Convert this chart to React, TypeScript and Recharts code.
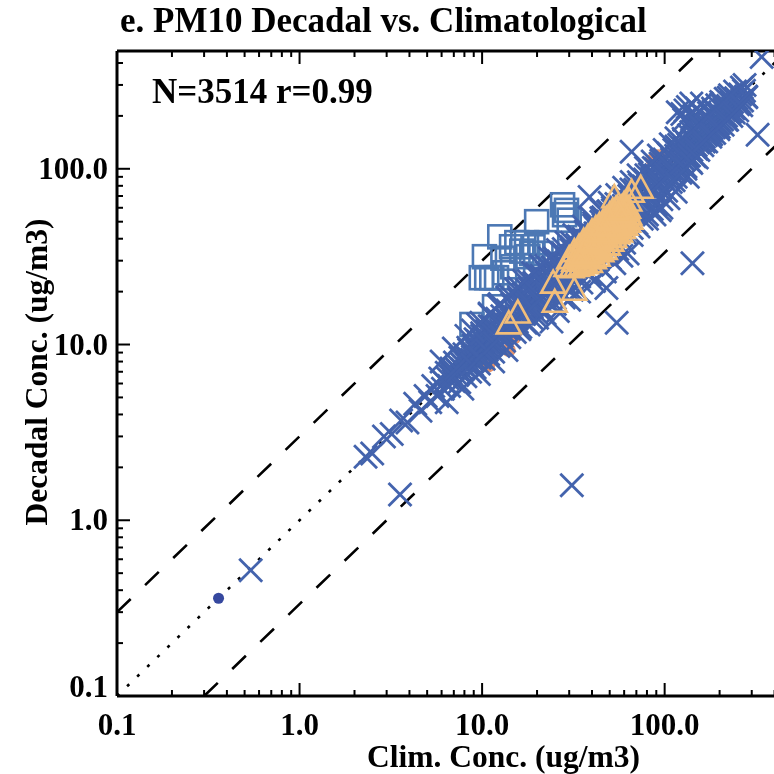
import React from "react";
import { ScatterChart, Scatter, XAxis, YAxis, ReferenceLine } from "recharts";

const majorTicks = [0.1, 1, 10, 100];
const minorTicks = [0.2,0.3,0.4,0.5,0.6,0.7,0.8,0.9,2,3,4,5,6,7,8,9,20,30,40,50,60,70,80,90,200,300,400];
const allTicks = [...majorTicks, ...minorTicks];
const tickLabels: Record<number,string> = {0.1:"0.1",1:"1.0",10:"10.0",100:"100.0"};
const axisDomain = [0.1, 468];

const dotPoints = [[0.36,0.36]];
const crossPoints = [
[0.54,0.52],[2.3,2.3],[2.5,2.4],[2.9,3.0],[3.2,3.1],[3.55,1.4],[3.6,3.7],[3.9,3.6],[4.3,4.6],[4.6,4.2],[4.9,5.1],[5.2,4.7],[5.4,5.8],[5.7,5.1],[5.9,6.4],[6.1,5.6],[6.4,6.9],[6.6,5.8],[6.8,7.3],[7.0,6.2],[7.1,7.9],[7.3,6.7],[7.5,6.1],[7.6,8.4],[7.8,7.2],[8.0,8.8],[8.1,6.6],[8.3,7.7],[8.5,9.3],[8.6,7.0],[8.8,8.2],[9.0,9.9],[9.1,7.4],[9.3,8.6],[9.5,10.4],[9.6,7.8],[9.8,9.1],[10,11.2],[10.2,8.3],[10.4,9.6],[10.6,11.9],[10.8,8.8],[11,10.2],[11.3,12.7],[11.5,9.1],[11.8,10.8],[12,13.6],[12.3,9.8],[12.6,11.6],[12.9,14.5],[13.2,10.5],[13.5,12.4],[13.8,15.6],[14.1,11],[14.4,13.2],[14.8,16.9],[15.1,11.8],[15.5,14.1],[15.9,18],[16.2,12.6],[16.6,15],[17,19.4],[17.3,13.3],[17.8,16.1],[18.2,20.8],[18.6,14.2],[19,17.2],[19.5,22.3],[20,15],[20.5,18.4],[21,24],[21.5,15.9],[22,19.6],[22.6,25.6],[23.2,17.2],[23.8,21],[24.4,27.5],[25,18.4],[25.6,22.6],[26.3,29.7],[27,20],[27.7,24.4],[28.4,32],[29,21],[30,26],[30.8,34.6],[31.5,23],[31,1.58],[32.4,28],[33.2,37],[34,24.4],[35,30],[36,40],[37,26.4],[38,32.5],[38.8,69],[39,43],[40,28.4],[41,35],[42,46],[43,30.5],[44,37.5],[45,50],[46,32.5],[47,40],[48,21],[48.5,54],[49.5,35],[51,43],[52,58],[53,37],[54.6,13.3],[55,47],[56,62],[57,40],[59,51],[60,66],[61,43],[62.7,33],[63,55],[64,70],[65.9,125],[66,46],[68,59],[69,76],[70,49],[72,63],[73,81],[75,52],[77,67],[78,87],[80,55],[82,72],[83,93],[85,59],[87,77],[89,100],[90,63],[92,82],[94,58],[95,107],[96,67],[98,88],[100,113],[102,75],[104,94],[106,120],[108,84],[110,100],[113,128],[115,90],[118,107],[120,137],[122,95],[125,114],[128,146],[130,103],[132,121],[134,225],[134,90],[136,155],[138,110],[140,128],[142,29],[144,165],[146,118],[148,136],[151,176],[153,128],[156,144],[159,186],[161,136],[164,152],[167,197],[169,143],[172,160],[175,208],[178,152],[181,170],[184,220],[187,160],[190,178],[194,230],[197,168],[200,188],[204,240],[208,178],[212,198],[216,250],[220,190],[224,208],[228,262],[232,200],[238,222],[243,275],[250,215],[256,240],[265,290],[274,300],[280,255],[323,156],[340,433],[125,205],[130,215],[140,235],[145,200],[150,220],[128,190],[155,210],[136,180],[118,210],[160,235],
[16,12.2],[18,13],[20,14.2],[22,15],[25,17],[28,18.5],[31,20.5],[35,22.5],[39,25],[44,28],[50,31],[55,35],[60,38],[66,42],[72,47],[80,52],[88,55],[96,60],[105,68],[115,74],[30,18],[34,20],[26,15.5],[24,13.5],[41,23],[47,26],[53,29],[58,32],[13.6,9.3],[11.5,8],[9.6,6.8],[7.8,5.6],[6.4,4.7],
[52,60],[49,57],[46,53],[41,49],[37,44],[34,41],[31,38],[28,35],[25,31],[22.5,28],[20,25],[18,23],[16,21],[14.2,19],[12.5,17],[11,15],[9.5,13],[8.2,11.2],[7,9.5],[6,8]
];
const denseCrossPoints = [
[6.2,6.1],[6.5,6.4],[6.7,6.9],[6.9,6.6],[7.2,7.3],[7.4,7.1],[7.7,7.8],[7.9,7.6],[8.2,8.4],[8.4,8.0],[8.7,8.9],[8.9,8.5],[9.2,9.4],[9.4,9.0],[9.7,10],[9.9,9.4],[10.1,10.4],[10.3,9.8],[10.5,10.8],[10.7,10.2],[10.9,11.3],[11.1,10.5],[11.4,11.8],[11.6,11],[11.9,12.3],[12.1,11.4],[12.4,12.9],[12.7,12],[13,13.5],[13.3,12.6],[13.6,14.1],[13.9,13.1],[14.2,14.8],[14.6,13.8],[15,15.5],[15.3,14.4],[15.7,16.2],[16.1,15.2],[16.5,17],[16.9,15.9],[17.2,17.8],[17.6,16.6],[18,18.6],[18.4,17.4],[18.8,19.5],[19.3,18.2],[19.8,20.4],[20.2,19],[20.7,21.4],[21.2,20],[21.7,22.4],[22.2,21],[22.8,23.5],[23.4,22],[24,24.7],[24.6,23],[25.2,26],[25.9,24.2],[26.6,27.4],[27.3,25.6],[28,28.8],[28.7,27],[29.4,30.2],[30.2,28.4],[31,31.8],[31.8,30],[32.6,33.5],[33.4,31.5],[34.2,35.2],[35.1,33],[36,37],[36.9,34.8],[37.8,39],[38.8,36.6],[39.8,41],[40.8,38.4],[41.8,43],[42.9,40.4],[44,45.4],[45.1,42.5],[46.3,47.8],[47.5,44.6],[48.7,50.2],[50,47],[51.3,53],[52.6,49.4],[54,55.7],[55.4,52],[56.8,58.6],[58.3,54.8],[59.8,61.6],[61.3,57.6],[62.9,64.8],[64.5,60.5],[66.2,68.2],[67.9,63.6],[69.6,71.7],[71.4,66.8],[73.2,75.4],[75,70.2],[77,79.2],[79,73.8],[81,83.4],[83,77.6],[85,87.6],[87.3,81.5],[89.6,92],[91.9,85.6],[94.3,97],[96.7,90],[99.2,102],[101.8,94.6],[104.4,107],[107,99.4],[109.8,112.8],[112.6,104.5],[115.5,118.6],[118.5,110],[121.5,124.8],[124.6,115.6],[127.8,131],[131,121.6],[134.4,138],[137.8,127.8],[141.3,145],[145,134],[148.7,152.6],[152.5,141],[156.4,160.4],[160.4,148.3],[164.5,168.8],[168.7,155.9],[173,177.4],[177.4,164],[182,186.6],[186.6,172.4],[191.4,196],[196.3,181],[201.3,206],[206.4,190.6],[211.7,216.6],[217,200.4],[222.6,227.8],[228.3,210.8],[234,239.6],[240,221.6],[246.2,251.8],[252.4,233],[258.9,264.8],[265.5,245],[272,278],[279,258],
[8.4,9.6],[9.2,10.7],[10,11.6],[11,12.7],[12.1,14],[13.3,15.4],[14.6,16.9],[16,18.6],[17.6,20.4],[19.3,22.4],[21.2,24.6],[23.3,27],[25.6,29.7],[28.1,32.6],[30.9,35.8],[33.9,39.4],[37.3,43.3],[41,47.6],[45,52.3],[49.5,57.4],[54.4,63.1],[59.8,69.4],[65.7,76.2],[72.2,83.8],[79.4,92],[87.2,101],[95.9,111],[105,122],[116,134],[127,148],[140,162],[154,178],[169,196],[186,214],[204,232],[224,254],
[8.8,7.7],[9.7,8.4],[10.6,9.3],[11.7,10.2],[12.8,11.2],[14.1,12.3],[15.5,13.5],[17,14.9],[18.7,16.3],[20.6,18],[22.6,19.8],[24.8,21.7],[27.3,23.8],[30,26.2],[33,28.8],[36.2,31.7],[39.8,34.8],[43.8,38.2],[48.1,42],[52.9,46.2],[58.1,50.8],[63.9,55.8],[70.2,61.3],[77.2,67.4],[84.8,74],[93.2,81.4],[102.4,89.5],[112.6,98.4],[123.7,108],[136,119],[149,130],[164,143],[180,157],[198,173],[218,190],[239,209],[263,230],
[100,128],[108,138],[116,149],[130,100],[140,108],[150,116],[112,86],
[60,78],[66,84],[72,92],[79,101],[86,110],[93,119],[55,71],[50,64],[45,58],[40,52],[36,47],[32,42],[29,38],[26,34.5],[23.5,31],[21,28],[19,25.5],[17,23],[15.3,20.6],[13.7,18.5],[12.3,16.6],[11,14.8],[9.9,13.3],[8.9,12]
];
const squarePoints = [
[27.6,62.4],[19.9,50],[28.3,54.8],[12.5,41],[10.3,31.6],[15.5,38],[17.5,38],[10.6,24],[12,24],[13.3,25.6],[17.8,31.6],[11.7,16.4],[8.8,13],[22.6,38],[14.7,27.7],[30,51],[18.7,33],[9.9,24],[11.3,24],[14.5,36],[16.5,34],[19,36],[13,31],[21,33],[29,58]
];
const trianglePoints = [
[53,69],[66,74],[74,78],[64,66],[24.5,22.5],[32,20.5],[25,17.5],[15.7,15.2],[14,13.2],
[29,28],[30,31],[31,27.5],[32,30],[32,34],[33,28],[34,31],[34,36],[35,28.5],[35,33],[36,30],[36,35],[36,39],[37,29],[37,33],[38,31],[38,37],[38,41],[39,35],[39,29.5],[40,33],[40,39],[40,44],[41,31],[41,36],[42,41],[42,34],[42,46],[43,38],[43,32],[44,36],[44,43],[44,48],[45,34],[45,40],[46,45],[46,37],[46,50],[47,42],[47,35],[48,39],[48,47],[48,52],[49,37],[49,44],[50,41],[50,50],[50,55],[51,39],[51,46],[52,43],[52,53],[52,58],[53,41],[53,48],[54,45],[54,55],[55,43],[55,51],[55,60],[56,47],[56,57],[57,44],[57,53],[58,49],[58,60],[59,46],[59,55],[60,51],[60,63],[61,48],[61,58],[62,53],[63,50],[63,60],[64,55],[65,52],[35,30],[38,33],[41,38],[44,40],[47,45],[50,47],[53,51],[56,54],[59,57],[62,59],[33,32],[36,33],[39,39],[43,44],[46,48],[49,52],[54,59]
];
const orangePoints = [[86,112],[15,11],[10.8,7.6],[14,9.3],[92,118]];

const toRows = (pts: number[][]) => pts.map(([clim, dec]) => ({ clim, dec }));

const Cross = (p: any) => {
  const r = 11.5;
  return <g stroke="#4363AD" strokeWidth={2.8} fill="none">
    <line x1={p.cx-r} y1={p.cy-r} x2={p.cx+r} y2={p.cy+r}/>
    <line x1={p.cx-r} y1={p.cy+r} x2={p.cx+r} y2={p.cy-r}/>
  </g>;
};
const Square = (p: any) => <rect x={p.cx-11.5} y={p.cy-11.5} width={23} height={23} fill="none" stroke="#4C78B4" strokeWidth={2.6}/>;
const Triangle = (p: any) => <path d={`M${p.cx} ${p.cy-12}L${p.cx+12} ${p.cy+10}L${p.cx-12} ${p.cy+10}Z`} fill="none" stroke="#F2BE7A" strokeWidth={2.6}/>;
const Dot = (p: any) => <circle cx={p.cx} cy={p.cy} r={5.5} fill="#36489F"/>;
const OrangeDot = (p: any) => <circle cx={p.cx} cy={p.cy} r={7} fill="#E8946C"/>;

const font = { fontFamily: "'Liberation Serif', serif", fontWeight: 700, fill: "#000" } as const;
const isMajor = (v: number) => majorTicks.includes(v);

const BottomTick = (p: any) => {
  const v = p.payload.value; const len = isMajor(v) ? 13 : 6;
  return <g>
    <line x1={p.x} y1={p.y} x2={p.x} y2={p.y-len} stroke="#000" strokeWidth={2}/>
    {isMajor(v) && <text x={p.x} y={p.y+39} textAnchor="middle" fontSize={31} {...font}>{tickLabels[v]}</text>}
  </g>;
};
const TopTick = (p: any) => {
  const len = isMajor(p.payload.value) ? 13 : 6;
  return <line x1={p.x} y1={p.y} x2={p.x} y2={p.y+len} stroke="#000" strokeWidth={2}/>;
};
const LeftTick = (p: any) => {
  const v = p.payload.value; const len = isMajor(v) ? 13 : 6;
  return <g>
    <line x1={p.x} y1={p.y} x2={p.x+len} y2={p.y} stroke="#000" strokeWidth={2}/>
    {isMajor(v) && <text x={p.x-9} y={p.y+(v===0.1?1:10)} textAnchor="end" fontSize={31} {...font}>{tickLabels[v]}</text>}
  </g>;
};
const RightTick = (p: any) => {
  const len = isMajor(p.payload.value) ? 13 : 6;
  return <line x1={p.x} y1={p.y} x2={p.x-len} y2={p.y} stroke="#000" strokeWidth={2}/>;
};

const axisLine = { stroke: "#000", strokeWidth: 3 };
const textStyle = { position: "absolute", fontFamily: "'Liberation Serif', serif", fontWeight: 700, whiteSpace: "nowrap", color: "#000" } as const;

export default function App() {
  return (
    <div style={{ position: "absolute", left: 0, top: 0, width: 774, height: 774, overflow: "hidden", background: "#fff", filter: "blur(0.5px)" }}>
      <ScatterChart width={800} height={774} margin={{ left: 116, right: 12, top: 50, bottom: 77 }}>
        <XAxis xAxisId="b" dataKey="clim" type="number" scale="log" domain={axisDomain} allowDataOverflow ticks={allTicks} interval={0}
          height={1} tickSize={0} tickMargin={0} tick={BottomTick} axisLine={axisLine} tickLine={false} orientation="bottom"/>
        <XAxis xAxisId="t" dataKey="clim" type="number" scale="log" domain={axisDomain} allowDataOverflow ticks={allTicks} interval={0}
          height={1} tickSize={0} tickMargin={0} tick={TopTick} axisLine={axisLine} tickLine={false} orientation="top"/>
        <YAxis yAxisId="l" dataKey="dec" type="number" scale="log" domain={axisDomain} allowDataOverflow ticks={allTicks} interval={0}
          width={1} tickSize={0} tickMargin={0} tick={LeftTick} axisLine={axisLine} tickLine={false} orientation="left"/>
        <YAxis yAxisId="r" dataKey="dec" type="number" scale="log" domain={axisDomain} allowDataOverflow ticks={allTicks} interval={0}
          width={1} tickSize={0} tickMargin={0} tick={RightTick} axisLine={axisLine} tickLine={false} orientation="right"/>
        <ReferenceLine xAxisId="b" yAxisId="l" segment={[{x:0.1,y:0.3},{x:156,y:468}]} stroke="#000" strokeWidth={2.6} strokeDasharray="19 20"/>
        <ReferenceLine xAxisId="b" yAxisId="l" segment={[{x:0.3,y:0.1},{x:468,y:156}]} stroke="#000" strokeWidth={2.6} strokeDasharray="19 20"/>
        <ReferenceLine xAxisId="b" yAxisId="l" segment={[{x:0.1,y:0.1},{x:468,y:468}]} stroke="#000" strokeWidth={2.6} strokeDasharray="3 11"/>
        <Scatter xAxisId="b" yAxisId="l" data={toRows(orangePoints)} shape={OrangeDot} isAnimationActive={false}/>
        <Scatter xAxisId="b" yAxisId="l" data={toRows(squarePoints)} shape={Square} isAnimationActive={false}/>
        <Scatter xAxisId="b" yAxisId="l" data={toRows(crossPoints)} shape={Cross} isAnimationActive={false}/>
        <Scatter xAxisId="b" yAxisId="l" data={toRows(denseCrossPoints)} shape={Cross} isAnimationActive={false}/>
        <Scatter xAxisId="b" yAxisId="l" data={toRows(trianglePoints)} shape={Triangle} isAnimationActive={false}/>
        <Scatter xAxisId="b" yAxisId="l" data={toRows(dotPoints)} shape={Dot} isAnimationActive={false}/>
      </ScatterChart>
      <div style={{ ...textStyle, left:120, top:1, fontSize:35 }}>e. PM10 Decadal vs. Climatological</div>
      <div style={{ ...textStyle, left:152, top:72, fontSize:35 }}>N=3514 r=0.99</div>
      <div style={{ ...textStyle, left:367, top:739, fontSize:31.5 }}>Clim. Conc. (ug/m3)</div>
      <div style={{ ...textStyle, left:37, top:372, transform:"translate(-50%,-50%) rotate(-90deg)", fontSize:31.5 }}>Decadal Conc. (ug/m3)</div>
    </div>
  );
}
